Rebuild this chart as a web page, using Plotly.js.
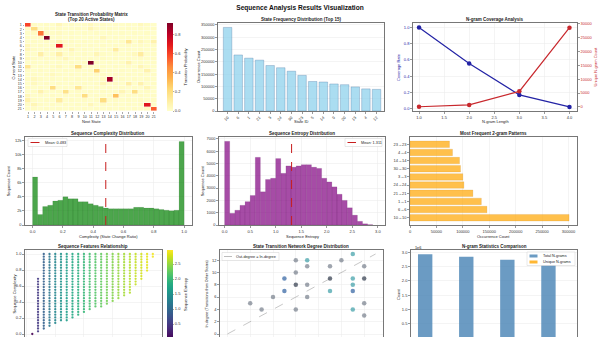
<!DOCTYPE html>
<html><head><meta charset="utf-8">
<script src="https://cdn.plot.ly/plotly-3.0.1.min.js"></script>
<style>html,body{margin:0;padding:0;overflow:hidden;background:#fff;width:600px;height:337px}#chart{width:600px;height:380px}</style>
</head><body><div id="chart"></div>
<script>
// ---------------- DATA ----------------
const heatLabels = ["1","2","3","4","5","6","7","8","9","10","11","12","13","14","15","16","17","18","19","20","21"];
const transitionMatrix = [
[0.60,0.02,0.01,0.02,0.01,0.05,0.01,0.02,0.01,0.02,0.04,0.01,0.02,0.01,0.02,0.01,0.02,0.01,0.04,0.02,0.01],
[0.02,0.20,0.01,0.02,0.01,0.02,0.01,0.01,0.02,0.01,0.06,0.02,0.01,0.02,0.01,0.01,0.02,0.01,0.02,0.01,0.02],
[0.01,0.02,0.50,0.01,0.02,0.03,0.01,0.02,0.01,0.02,0.01,0.02,0.01,0.02,0.01,0.02,0.01,0.02,0.01,0.02,0.01],
[0.02,0.01,0.02,0.92,0.01,0.02,0.01,0.02,0.01,0.01,0.02,0.01,0.05,0.01,0.02,0.01,0.02,0.01,0.02,0.01,0.02],
[0.01,0.02,0.01,0.02,0.01,0.06,0.01,0.02,0.01,0.02,0.01,0.02,0.01,0.02,0.01,0.02,0.15,0.01,0.05,0.02,0.08],
[0.05,0.01,0.02,0.01,0.02,0.70,0.02,0.01,0.02,0.01,0.02,0.01,0.02,0.01,0.02,0.01,0.02,0.01,0.02,0.01,0.02],
[0.05,0.02,0.01,0.02,0.01,0.02,0.01,0.06,0.01,0.02,0.01,0.02,0.01,0.02,0.12,0.01,0.02,0.01,0.02,0.01,0.02],
[0.02,0.01,0.10,0.01,0.02,0.10,0.01,0.02,0.01,0.02,0.01,0.06,0.02,0.01,0.02,0.01,0.02,0.04,0.12,0.01,0.02],
[0.04,0.02,0.01,0.02,0.01,0.02,0.05,0.01,0.02,0.01,0.02,0.01,0.02,0.01,0.02,0.01,0.02,0.01,0.02,0.01,0.02],
[0.01,0.02,0.01,0.02,0.01,0.02,0.01,0.02,0.01,0.02,0.92,0.02,0.01,0.02,0.01,0.02,0.08,0.01,0.02,0.01,0.02],
[0.15,0.01,0.02,0.01,0.02,0.04,0.01,0.02,0.20,0.01,0.02,0.01,0.02,0.01,0.02,0.01,0.02,0.01,0.06,0.02,0.01],
[0.02,0.01,0.02,0.01,0.02,0.01,0.02,0.01,0.02,0.01,0.02,0.25,0.01,0.02,0.01,0.02,0.01,0.02,0.01,0.08,0.01],
[0.01,0.02,0.01,0.02,0.04,0.02,0.01,0.02,0.01,0.02,0.01,0.02,0.02,0.01,0.02,0.01,0.02,0.01,0.02,0.01,0.02],
[0.02,0.04,0.02,0.01,0.02,0.01,0.02,0.01,0.02,0.01,0.02,0.01,0.02,0.85,0.01,0.02,0.01,0.02,0.01,0.02,0.01],
[0.01,0.04,0.01,0.02,0.01,0.02,0.01,0.02,0.01,0.02,0.01,0.02,0.05,0.01,0.02,0.01,0.10,0.01,0.08,0.01,0.02],
[0.02,0.01,0.02,0.01,0.20,0.01,0.02,0.01,0.15,0.02,0.01,0.02,0.01,0.02,0.01,0.02,0.01,0.02,0.01,0.06,0.01],
[0.01,0.02,0.08,0.02,0.01,0.02,0.18,0.01,0.02,0.01,0.02,0.01,0.02,0.01,0.02,0.06,0.01,0.20,0.01,0.02,0.01],
[0.05,0.01,0.02,0.01,0.02,0.01,0.02,0.01,0.02,0.20,0.01,0.02,0.01,0.02,0.30,0.01,0.02,0.01,0.02,0.01,0.02],
[0.08,0.02,0.01,0.02,0.01,0.12,0.01,0.02,0.01,0.02,0.01,0.02,0.20,0.01,0.02,0.01,0.02,0.01,0.02,0.01,0.02],
[0.02,0.06,0.02,0.01,0.02,0.01,0.02,0.01,0.02,0.01,0.05,0.01,0.02,0.01,0.02,0.01,0.02,0.01,0.02,0.70,0.01],
[0.01,0.02,0.01,0.02,0.01,0.02,0.01,0.02,0.01,0.02,0.01,0.02,0.01,0.02,0.01,0.02,0.01,0.02,0.01,0.02,0.55]
];

const stateIds = ["10","6","1","21","3","24","30","23","5","14","9","20","13","4","12"];
const stateCounts = [340000,228000,215000,207000,185000,176000,162000,145000,120000,118000,110000,107000,98000,90000,88000];

const ngramLength = [1,2,3,4];
const coverageRate = [1.0,0.557,0.168,0.02];
const uniqueNgrams = [31,700,5600,28600];

const complexityBinWidth = 1/30;
const complexityCounts = [6800,1500,2600,2800,3400,3500,4000,3700,3700,3300,3300,3000,2800,2600,2400,2300,2300,2300,2300,2300,2500,2500,2400,2400,2300,2200,2100,2000,2100,11800];
const complexityMean = 0.483;

const entropyBinWidth = 0.1;
const entropyCounts = [6800,950,1200,1600,1900,2400,5500,2700,3700,3800,5400,4200,4800,4700,4800,4900,4900,4700,4600,3800,3500,3100,2500,2000,1400,800,300,100,30];
const entropyMean = 1.311;

const patternLabels = ["10→10","6→6","1→1","21→21","24→24","3→3","30→30","14→14","4→4","23→23"];
const patternCounts = [301000,145600,135000,119000,102000,100000,95600,93700,80400,74700];

const complexityLevels = [0,0.034,0.069,0.103,0.138,0.172,0.207,0.241,0.276,0.310,0.345,0.379,0.414,0.448,0.483,0.517,0.552,0.586,0.621,0.655,0.690,0.724,0.759,0.793,0.828,0.862,0.897,0.931,0.966,1.0];
const featUnique = [1,2,3,4,5,6,7,8,9,10,11,12,13,14,15,16,17,18,19,20,21,22];
const featMinComplexity = [0,0.034,0.069,0.103,0.138,0.172,0.172,0.207,0.241,0.276,0.310,0.345,0.345,0.379,0.414,0.448,0.483,0.517,0.621,0.690,0.793,0.966];
const featMaxComplexity = [0,0.690,1,1,1,1,1,1,1,1,1,1,1,1,1,1,1,1,1,1,1,1];
const featEntropy = [0,0.5,0.9,1.15,1.35,1.5,1.65,1.77,1.88,1.98,2.08,2.17,2.26,2.34,2.42,2.5,2.57,2.64,2.71,2.78,2.85,2.92];

const outDegree = [2,3,4,5,5,6,6,6,6,7,7,7,7,9,9,9,10,11,11,11,11,11,12,12,12,12];
const inDegree  = [5,4,6,9,7,12,10,8,4,12,11,8,6,11,9,7,12,13,9,8,7,4,11,9,5,3];
const degreeTone = ["g","g","g","b","b","g","g","d","g","t","g","g","g","g","d","t","g","t","t","t","b","t","g","d","g","g"];
const diagLine = [0,13];

const ngramNames = ["1-gram","2-gram","3-gram","4-gram"];
const totalNgrams = [2930000,2840000,2740000,2550000];
const statTickVals = [500000,1000000,1500000,2000000,2500000,3000000];
const statTickText = ["0.5","1.0","1.5","2.0","2.5","3.0"];

// ---------------- LAYOUT HELPERS ----------------
const W = 600, H = 380;
const X = p => p / W, Y = p => 1 - p / H;
const xd = (a, b) => [X(a), X(b)];
const yd = (t, b) => [Y(b), Y(t)];
const FONT = "Liberation Sans, Arial, Helvetica, sans-serif";
const axBase = () => ({showline:true, mirror:true, linecolor:'#555', linewidth:0.8, ticks:'outside', ticklen:2, tickwidth:0.6, tickcolor:'#555',
  tickfont:{size:4, color:'#333'}, showgrid:true, gridcolor:'#e9e9e9', gridwidth:0.5, zeroline:false, fixedrange:true});
function ax(extra){ return Object.assign(axBase(), extra); }
function ann(text, px, py, o){ o = o || {};
  return {text:text, x:X(px), y:Y(py), xref:'paper', yref:'paper', showarrow:false, xanchor:o.xanchor||'center', yanchor:'middle',
    textangle:o.angle||0, font:{family:FONT, size:o.size||4, color:o.color||'#222', weight:o.bold?'bold':'normal'}}; }

const rowTop = [23,137,250], rowBot = [111,225,338];

const traces = [];
// 1 heatmap
traces.push({type:'heatmap', x:heatLabels, y:heatLabels, z:transitionMatrix, xaxis:'x', yaxis:'y', xgap:0.4, ygap:0.4, zmin:0, zmax:0.92,
  colorscale:[[0,'#ffffcc'],[0.125,'#ffeda0'],[0.25,'#fed976'],[0.375,'#feb24c'],[0.5,'#fd8d3c'],[0.625,'#fc4e2a'],[0.75,'#e31a1c'],[0.875,'#bd0026'],[1,'#800026']],
  colorbar:{x:X(167), xanchor:'left', xpad:0, ypad:0, y:Y((rowTop[0]+rowBot[0])/2), yanchor:'middle', len:(rowBot[0]-rowTop[0])/H, lenmode:'fraction',
    thickness:6, thicknessmode:'pixels', outlinewidth:0, ticks:'outside', ticklen:1.5, tickwidth:0.5, tickcolor:'#555', tickvals:[0,0.2,0.4,0.6,0.8], tickformat:'.1f',
    tickfont:{size:4, color:'#333'}, title:{text:'Transition Probability', side:'right', font:{size:4, color:'#222'}}}, hoverinfo:'skip'});
// 2 state frequency
traces.push({type:'bar', x:stateIds, y:stateCounts, xaxis:'x2', yaxis:'y2', width:0.8,
  marker:{color:'rgba(135,206,235,0.7)', line:{color:'rgba(60,100,150,0.55)', width:0.5}}});
// 3 coverage
traces.push({type:'scatter', mode:'lines+markers', x:ngramLength, y:coverageRate, xaxis:'x3', yaxis:'y3',
  line:{color:'rgb(35,35,165)', width:1.2}, marker:{color:'rgb(35,35,165)', size:4.5}});
traces.push({type:'scatter', mode:'lines+markers', x:ngramLength, y:uniqueNgrams, xaxis:'x3', yaxis:'y10',
  line:{color:'rgb(200,40,45)', width:1.2}, marker:{color:'rgb(200,40,45)', size:4.5}});
// 4 complexity histogram
traces.push({type:'bar', x:complexityCounts.map((_, i) => (i + 0.5) * complexityBinWidth), y:complexityCounts, width:complexityBinWidth, xaxis:'x4', yaxis:'y4',
  marker:{color:'rgba(0,128,0,0.7)', line:{color:'rgba(0,70,0,0.35)', width:0.3}}});
// 5 entropy histogram
traces.push({type:'bar', x:entropyCounts.map((_, i) => (i + 0.5) * entropyBinWidth), y:entropyCounts, width:entropyBinWidth, xaxis:'x5', yaxis:'y5',
  marker:{color:'rgba(128,0,128,0.7)', line:{color:'rgba(70,0,70,0.35)', width:0.3}}});
// 6 2-gram patterns
traces.push({type:'bar', orientation:'h', y:patternLabels, x:patternCounts, width:0.8, xaxis:'x6', yaxis:'y6',
  marker:{color:'rgba(255,165,0,0.7)', line:{color:'rgba(190,120,0,0.4)', width:0.4}}});
// 7 features scatter
const fx = [], fy = [], fc = [];
featUnique.forEach((u, i) => {
  complexityLevels.forEach(l => {
    if (l >= featMinComplexity[i] - 1e-9 && l <= featMaxComplexity[i] + 1e-9) { fx.push(u); fy.push(l); fc.push(featEntropy[i]); }
  });
});
traces.push({type:'scatter', mode:'markers', x:fx, y:fy, xaxis:'x7', yaxis:'y7',
  marker:{size:2.3, color:fc, colorscale:'Viridis', cmin:0, cmax:2.97, opacity:0.9,
    colorbar:{x:X(167), xanchor:'left', xpad:0, ypad:0, y:Y((rowTop[2]+339)/2), yanchor:'middle', len:(339-rowTop[2])/H, lenmode:'fraction',
      thickness:6, thicknessmode:'pixels', outlinewidth:0, ticks:'outside', ticklen:1.5, tickwidth:0.5, tickcolor:'#555', tickvals:[0.5,1,1.5,2,2.5], tickformat:'.1f',
      tickfont:{size:4, color:'#333'}, title:{text:'Sequence Entropy', side:'right', font:{size:4, color:'#222'}}}}});
// 8 degree
const toneColor = {g:'rgba(95,105,120,0.6)', d:'rgba(60,70,85,0.75)', b:'rgba(45,95,160,0.7)', t:'rgba(45,150,160,0.65)'};
traces.push({type:'scatter', mode:'lines', x:diagLine, y:diagLine, xaxis:'x8', yaxis:'y8', line:{color:'rgba(120,120,120,0.6)', width:0.7, dash:'dash'}});
traces.push({type:'scatter', mode:'markers', x:outDegree, y:inDegree, xaxis:'x8', yaxis:'y8',
  marker:{size:4.5, color:degreeTone.map(t => toneColor[t])}});
// 9 n-gram stats
traces.push({type:'bar', x:ngramNames, y:totalNgrams, width:0.35, offset:-0.35, xaxis:'x9', yaxis:'y9',
  marker:{color:'rgba(70,130,180,0.8)', line:{width:0}}});
traces.push({type:'bar', x:ngramNames, y:uniqueNgrams, width:0.35, offset:0, xaxis:'x9', yaxis:'y9',
  marker:{color:'rgba(255,165,0,0.8)', line:{width:0}}});

const layout = {
  width:W, height:H, margin:{l:0,r:0,t:0,b:0}, paper_bgcolor:'#fff', plot_bgcolor:'#fff', showlegend:false, barmode:'overlay',
  font:{family:FONT, size:4, color:'#222'},
  title:{text:'Sequence Analysis Results Visualization', x:0.5, xref:'paper', y:Y(7.5), yref:'container', yanchor:'middle', font:{family:FONT, size:6.6, weight:'bold', color:'#111'}},
  // heatmap
  xaxis:{domain:xd(25,157), anchor:'y', type:'category', tickmode:'array', tickvals:heatLabels, ticks:'outside', ticklen:1.5, tickwidth:0.5, tickcolor:'#555',
    tickfont:{size:3.7, color:'#333'}, showgrid:false, zeroline:false, showline:false, fixedrange:true},
  yaxis:{domain:yd(rowTop[0],rowBot[0]), anchor:'x', type:'category', autorange:'reversed', tickmode:'array', tickvals:heatLabels, ticks:'outside', ticklen:1.5, tickwidth:0.5, tickcolor:'#555',
    tickfont:{size:3.7, color:'#333'}, showgrid:false, zeroline:false, showline:false, fixedrange:true},
  // state freq
  xaxis2:ax({domain:xd(218,384), anchor:'y2', type:'category', range:[-0.9,14.7], tickangle:-45, showgrid:false}),
  yaxis2:ax({domain:yd(rowTop[0],rowBot[0]), anchor:'x2', range:[0,358000], dtick:50000, tickformat:'d'}),
  // coverage
  xaxis3:ax({domain:xd(413,577), anchor:'y3', range:[0.88,4.15], dtick:0.5, tickformat:'.1f'}),
  yaxis3:ax({domain:yd(rowTop[0],rowBot[0]), anchor:'x3', range:[-0.03,1.055], dtick:0.2, tickformat:'.1f', mirror:false, tickfont:{size:4, color:'rgb(35,35,165)'}}),
  yaxis10:ax({overlaying:'y3', side:'right', anchor:'x3', range:[-1500,30300], dtick:5000, tickformat:'d', showgrid:false, mirror:false, tickfont:{size:4, color:'rgb(200,40,45)'}}),
  // complexity
  xaxis4:ax({domain:xd(25,191.7), anchor:'y4', range:[-0.05,1.05], dtick:0.2, tickformat:'.1f'}),
  yaxis4:ax({domain:yd(rowTop[1],rowBot[1]), anchor:'x4', range:[0,12450], dtick:2000}),
  // entropy
  xaxis5:ax({domain:xd(219,385), anchor:'y5', range:[-0.11,3.14], dtick:0.5, tickformat:'.1f'}),
  yaxis5:ax({domain:yd(rowTop[1],rowBot[1]), anchor:'x5', range:[0,7150], dtick:1000}),
  // 2-gram
  xaxis6:ax({domain:xd(410,577), anchor:'y6', range:[0,316000], dtick:50000, tickformat:'d'}),
  yaxis6:ax({domain:yd(rowTop[1],rowBot[1]), anchor:'x6', type:'category', range:[-0.89,9.89], showgrid:false}),
  // features (x tick labels fall below the visible window, as in the reference)
  xaxis7:ax({domain:xd(25,162), anchor:'y7', range:[-0.27,23.6], dtick:5, showticklabels:false}),
  yaxis7:ax({domain:yd(rowTop[2],rowBot[2]), anchor:'x7', range:[-0.05,1.05], dtick:0.2, tickformat:'.1f'}),
  // degree
  xaxis8:ax({domain:xd(220,383), anchor:'y8', range:[-0.65,13.65], dtick:2, showticklabels:false}),
  yaxis8:ax({domain:yd(rowTop[2],rowBot[2]), anchor:'x8', range:[-0.65,13.65], dtick:2}),
  // stats
  xaxis9:ax({domain:xd(411,577), anchor:'y9', type:'category', range:[-0.52,3.52], showgrid:false, showticklabels:false}),
  yaxis9:ax({domain:yd(rowTop[2],rowBot[2]), anchor:'x9', range:[0,3080000], tickmode:'array', tickvals:statTickVals, ticktext:statTickText}),
  shapes:[
    {type:'line', xref:'x4', yref:'y4 domain', x0:complexityMean, x1:complexityMean, y0:0, y1:1, line:{color:'rgb(200,30,30)', width:1, dash:'dash'}},
    {type:'line', xref:'x5', yref:'y5 domain', x0:entropyMean, x1:entropyMean, y0:0, y1:1, line:{color:'rgb(200,30,30)', width:1, dash:'dash'}},
    // legend boxes
    {type:'rect', xref:'paper', yref:'paper', x0:X(28), x1:X(67), y0:Y(146.5), y1:Y(138.5), line:{color:'#d0d0d0', width:0.5}, fillcolor:'rgba(255,255,255,0.85)'},
    {type:'line', xref:'paper', yref:'paper', x0:X(30.5), x1:X(40.5), y0:Y(142.5), y1:Y(142.5), line:{color:'rgb(200,30,30)', width:1, dash:'dash'}},
    {type:'rect', xref:'paper', yref:'paper', x0:X(345), x1:X(382), y0:Y(146.5), y1:Y(138.5), line:{color:'#d0d0d0', width:0.5}, fillcolor:'rgba(255,255,255,0.85)'},
    {type:'line', xref:'paper', yref:'paper', x0:X(347.5), x1:X(356), y0:Y(142.5), y1:Y(142.5), line:{color:'rgb(200,30,30)', width:1, dash:'dash'}},
    {type:'rect', xref:'paper', yref:'paper', x0:X(222), x1:X(279), y0:Y(260.5), y1:Y(252.5), line:{color:'#d0d0d0', width:0.5}, fillcolor:'rgba(255,255,255,0.85)'},
    {type:'line', xref:'paper', yref:'paper', x0:X(224), x1:X(232), y0:Y(256.5), y1:Y(256.5), line:{color:'rgba(120,120,120,0.7)', width:0.7, dash:'dash'}},
    {type:'rect', xref:'paper', yref:'paper', x0:X(527), x1:X(575), y0:Y(265.5), y1:Y(252), line:{color:'#d0d0d0', width:0.5}, fillcolor:'rgba(255,255,255,0.85)'},
    {type:'rect', xref:'paper', yref:'paper', x0:X(529.5), x1:X(537.5), y0:Y(257.5), y1:Y(254.5), line:{width:0}, fillcolor:'rgba(70,130,180,0.8)'},
    {type:'rect', xref:'paper', yref:'paper', x0:X(529.5), x1:X(537.5), y0:Y(263.5), y1:Y(260.5), line:{width:0}, fillcolor:'rgba(255,165,0,0.8)'}
  ],
  annotations:[
    ann('State Transition Probability Matrix', 91, 14.5, {bold:true, size:4.5}),
    ann('(Top 20 Active States)', 91, 19.8, {bold:true, size:4.5}),
    ann('State Frequency Distribution (Top 15)', 301, 19.5, {bold:true, size:4.5}),
    ann('N-gram Coverage Analysis', 495, 19.5, {bold:true, size:4.5}),
    ann('Sequence Complexity Distribution', 108, 133.3, {bold:true, size:4.5}),
    ann('Sequence Entropy Distribution', 302, 133.3, {bold:true, size:4.5}),
    ann('Most Frequent 2-gram Patterns', 493, 133.3, {bold:true, size:4.5}),
    ann('Sequence Features Relationship', 93, 246.7, {bold:true, size:4.5}),
    ann('State Transition Network Degree Distribution', 301, 246.7, {bold:true, size:4.5}),
    ann('N-gram Statistics Comparison', 494, 246.7, {bold:true, size:4.5}),
    // axis titles
    ann('Current State', 12.5, 67, {angle:-90}),
    ann('Next State', 91, 121.5),
    ann('Occurrence Count', 198, 67, {angle:-90}),
    ann('State ID', 301, 121.5),
    ann('Coverage Rate', 398, 67, {angle:-90, color:'rgb(35,35,165)'}),
    ann('Unique N-gram Count', 594.5, 67, {angle:-90, color:'rgb(200,40,45)'}),
    ann('N-gram Length', 495, 121.5),
    ann('Sequence Count', 8.3, 181, {angle:-90}),
    ann('Complexity (State Change Ratio)', 108, 236),
    ann('Sequence Count', 202.3, 181, {angle:-90}),
    ann('Sequence Entropy', 302, 236),
    ann('Occurrence Count', 493, 236),
    ann('Sequence Complexity', 13.5, 294, {angle:-90}),
    ann('In-degree (Transitions from Other States)', 206.5, 294, {angle:-90, size:3.7}),
    ann('Count', 398, 294, {angle:-90}),
    ann('1e6', 413, 248, {xanchor:'left', size:3.8}),
    // legend texts
    ann('Mean: 0.483', 43, 142.5, {xanchor:'left', size:3.8}),
    ann('Mean: 1.311', 359, 142.5, {xanchor:'left', size:3.8}),
    ann('Out-degree = In-degree', 234, 256.5, {xanchor:'left', size:3.8}),
    ann('Total N-grams', 541, 256, {xanchor:'left', size:3.8}),
    ann('Unique N-grams', 541, 262, {xanchor:'left', size:3.8})
  ]
};
Plotly.newPlot('chart', traces, layout, {staticPlot:true, displayModeBar:false});
</script></body></html>
